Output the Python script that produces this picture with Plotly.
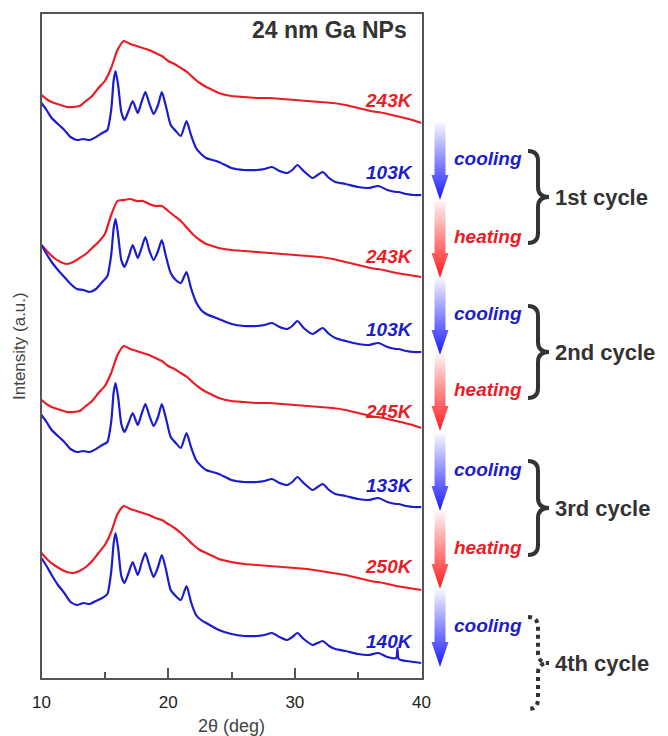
import plotly.graph_objects as go

# ---------------- data ----------------
# 2-theta grids (deg)
two_theta_melt = [10, 10.5, 11, 11.5, 12, 12.5, 13, 13.5, 14, 14.5, 15, 15.5, 16, 16.5, 17, 17.5,
                  18, 18.5, 19, 19.5, 20, 20.5, 21, 21.5, 22, 22.5, 23, 23.5, 24, 25, 26, 27, 28,
                  29, 30, 31, 32, 33, 34, 35, 36, 37, 38, 39, 40]
two_theta_solid = [10, 10.4, 10.8, 11.3, 11.8, 12.3, 12.8, 13.3, 13.8, 14.3, 14.8, 15.2, 15.5, 15.7,
                   15.85, 16.05, 16.3, 16.55, 16.9, 17.2, 17.6, 17.9, 18.2, 18.5, 18.85, 19.2, 19.5,
                   19.8, 20.2, 20.6, 21.0, 21.45, 21.8, 22.2, 22.6, 23.0, 24.0, 25.0, 26.0, 27.0,
                   27.6, 28.2, 28.8, 29.4, 29.8, 30.2, 30.7, 31.4, 31.8, 32.2, 32.7, 33.2, 34.0,
                   35.0, 35.8, 36.6, 37.3, 38.0, 38.1, 38.2, 38.8, 39.4, 40.0]

# stacked intensities (a.u., offset for clarity), top to bottom
heat_243K_c1 = [605, 600, 597, 595, 593, 593, 594, 599, 604, 612, 619, 632, 650, 659, 656, 654,
                652, 650, 647, 644, 639, 636, 632, 628, 622, 617, 613, 610, 607, 604, 603, 602,
                602, 601, 600, 599, 598, 597, 595, 592, 589, 587, 584, 581, 577]
cool_103K_c1 = [597, 590, 582, 576, 570, 563, 560, 561, 560, 563, 567, 570, 590, 620, 629, 615,
                588, 580, 590, 599, 587, 598, 608, 597, 586, 595, 608, 595, 575, 569, 564, 579,
                565, 552, 546, 542, 538, 532, 530, 530, 531, 533, 529, 527, 530, 535, 529, 522,
                525, 528, 522, 518, 516, 513, 512, 514, 510, 508, 508, 508, 506, 505, 505]
heat_243K_c2 = [455, 448, 442, 438, 436, 438, 442, 446, 452, 458, 466, 485, 499, 500, 501, 499,
                499, 496, 494, 494, 489, 484, 479, 472, 465, 460, 456, 454, 452, 450, 449, 448,
                447, 446, 445, 444, 443, 441, 438, 435, 432, 430, 427, 425, 423]
cool_103K_c2 = [455, 446, 438, 430, 423, 416, 411, 410, 408, 411, 418, 424, 445, 472, 481, 465,
                440, 433, 444, 455, 442, 452, 463, 450, 440, 449, 460, 445, 427, 420, 417, 428,
                412, 398, 390, 386, 381, 376, 374, 374, 375, 377, 373, 371, 374, 379, 372, 366,
                369, 372, 366, 362, 359, 356, 355, 357, 353, 351, 351, 351, 349, 348, 348]
heat_245K_c3 = [300, 295, 292, 290, 288, 288, 289, 294, 299, 307, 314, 327, 345, 354, 351, 349,
                347, 345, 342, 339, 334, 331, 327, 323, 317, 312, 308, 305, 302, 299, 298, 297,
                297, 296, 295, 294, 293, 292, 290, 287, 284, 282, 279, 276, 272]
cool_133K_c3 = [285, 278, 270, 264, 258, 251, 248, 249, 248, 251, 255, 258, 278, 308, 317, 303,
                276, 268, 278, 287, 275, 286, 296, 285, 274, 283, 296, 283, 263, 257, 252, 267,
                253, 240, 234, 230, 226, 220, 218, 218, 219, 221, 217, 215, 218, 223, 217, 210,
                213, 216, 210, 206, 204, 201, 200, 202, 198, 196, 196, 196, 194, 193, 193]
heat_250K_c4 = [147, 140, 135, 131, 128, 127, 129, 133, 139, 147, 155, 168, 186, 194, 191, 189,
                187, 185, 182, 180, 176, 172, 167, 161, 155, 150, 147, 144, 141, 138, 136, 135,
                134, 133, 132, 131, 129, 127, 125, 122, 119, 117, 114, 112, 110]
cool_140K_c4 = [142, 134, 125, 115, 107, 98, 95, 97, 96, 99, 102, 106, 128, 157, 167, 152,
                124, 117, 128, 138, 125, 137, 147, 135, 123, 133, 145, 132, 110, 104, 100, 114,
                98, 85, 80, 77, 70, 66, 64, 64, 65, 67, 63, 60, 63, 67, 61, 55,
                57, 59, 54, 51, 49, 46, 45, 47, 43, 42, 52, 41, 39, 38, 37]

temperature_labels = ["243K", "103K", "243K", "103K", "245K", "133K", "250K", "140K"]
step_labels = ["cooling", "heating", "cooling", "heating", "cooling", "heating", "cooling"]
cycle_labels = ["1st cycle", "2nd cycle", "3rd cycle", "4th cycle"]

# ---------------- style ----------------
RED = "#ec1c24"
BLUE = "#1c1ccf"
DARK = "#333333"
FONT = "Arial, Liberation Sans, sans-serif"
W, H = 668, 736
PLOT_L, PLOT_R, PLOT_T, PLOT_B = 41.5, 421.5, 14.3, 677.7

series = [
    (two_theta_melt, heat_243K_c1, RED),
    (two_theta_solid, cool_103K_c1, BLUE),
    (two_theta_melt, heat_243K_c2, RED),
    (two_theta_solid, cool_103K_c2, BLUE),
    (two_theta_melt, heat_245K_c3, RED),
    (two_theta_solid, cool_133K_c3, BLUE),
    (two_theta_melt, heat_250K_c4, RED),
    (two_theta_solid, cool_140K_c4, BLUE),
]

fig = go.Figure()
for x, y, c in series:
    fig.add_trace(go.Scatter(x=x, y=y, mode="lines",
                             line=dict(color=c, width=2.2, shape="spline", smoothing=0.6),
                             showlegend=False, hoverinfo="skip"))

# temperature labels sit just above the right end of each pattern (pixel frame of x2/y2)
label_y = [100, 172, 256, 329, 411, 485, 566, 641]
annotations = []
for txt, yy, (_, _, c) in zip(temperature_labels, label_y, series):
    annotations.append(dict(x=415, y=yy, xref="x2", yref="y2", text=txt, showarrow=False,
                            xanchor="right", yanchor="middle",
                            font=dict(family=FONT, size=19, color=c, weight="bold", style="italic")))

annotations.append(dict(x=409, y=30, xref="x2", yref="y2", text="24 nm Ga NPs", showarrow=False,
                        xanchor="right", yanchor="middle",
                        font=dict(family=FONT, size=23, color=DARK, weight="bold")))

# y-axis title, placed in the left gutter
annotations.append(dict(x=19, y=(PLOT_T + PLOT_B) / 2, xref="x2", yref="y2",
                        text="Intensity (a.u.)", textangle=-90, showarrow=False,
                        xanchor="center", yanchor="middle",
                        font=dict(family=FONT, size=17, color="#444")))

# gradient arrows for each temperature step
step_y = [158, 236, 313, 389, 469, 547, 625]
for txt, yy in zip(step_labels, step_y):
    cooling = txt == "cooling"
    top, tip = yy - 35, yy + 42
    head = tip - 25
    xs = [434.5, 445.5, 445.5, 448.5, 440, 431.5, 434.5, 434.5]
    ys = [top, top, head, head, tip, head, head, top]
    scale = ([[0, "#f6f6ff"], [1, "#1818ff"]] if cooling else [[0, "#fff4f4"], [1, "#ff1818"]])
    fig.add_trace(go.Scatter(x=xs, y=ys, xaxis="x2", yaxis="y2", mode="none", fill="toself",
                             fillgradient=dict(type="vertical", start=top, stop=tip,
                                               colorscale=scale),
                             showlegend=False, hoverinfo="skip"))
    annotations.append(dict(x=452, y=yy, xref="x2", yref="y2", text=txt, showarrow=False,
                            xanchor="left", yanchor="middle",
                            font=dict(family=FONT, size=19, color=BLUE if cooling else RED,
                                      weight="bold", style="italic")))

# cycle braces
cycle_mid = [197, 352, 508, 663]
cycle_half = [46, 46, 47, 46]
shapes = []
for i, (txt, mid, hh) in enumerate(zip(cycle_labels, cycle_mid, cycle_half)):
    t, b = mid - hh, mid + hh
    path = (f"M 528,{t} Q 538,{t} 538,{t + 10} L 538,{mid - 10} Q 538,{mid} 549,{mid} "
            f"Q 538,{mid} 538,{mid + 10} L 538,{b - 10} Q 538,{b} 528,{b}")
    shapes.append(dict(type="path", path=path, xref="x2", yref="y2",
                       line=dict(color=DARK, width=4, dash="dot" if i == 3 else "solid")))
    annotations.append(dict(x=553, y=mid, xref="x2", yref="y2", text=txt, showarrow=False,
                            xanchor="left", yanchor="middle",
                            font=dict(family=FONT, size=22, color=DARK, weight="bold")))

fig.update_layout(
    width=W, height=H,
    margin=dict(l=0, r=0, t=0, b=0, autoexpand=False),
    paper_bgcolor="white", plot_bgcolor="rgba(0,0,0,0)",
    showlegend=False,
    annotations=annotations, shapes=shapes,
    xaxis=dict(domain=[PLOT_L / W, PLOT_R / W], range=[10, 40], automargin=False,
               tickvals=[10, 20, 30, 40], ticks="inside", ticklen=10, tickwidth=1.5,
               tickcolor="#555", minor=dict(tickvals=[15, 25, 35], ticks="inside", ticklen=6,
                                            tickwidth=1.5, tickcolor="#555"),
               showline=True, linecolor="#555", linewidth=1.5, mirror=True,
               showgrid=False, zeroline=False, ticklabelstandoff=8,
               tickfont=dict(family=FONT, size=17, color="#222"),
               title=dict(text="2θ (deg)", font=dict(family=FONT, size=18, color="#444"),
                          standoff=10)),
    yaxis=dict(domain=[(H - PLOT_B) / H, (H - PLOT_T) / H], range=[22.3, 685.7],
               automargin=False, showticklabels=False, ticks="", showline=True,
               linecolor="#555", linewidth=1.5, mirror=True, showgrid=False, zeroline=False),
    xaxis2=dict(domain=[0, 1], range=[0, W], visible=False, fixedrange=True),
    yaxis2=dict(domain=[0, 1], range=[H, 0], visible=False, fixedrange=True),
)

fig.write_html("out.html")
